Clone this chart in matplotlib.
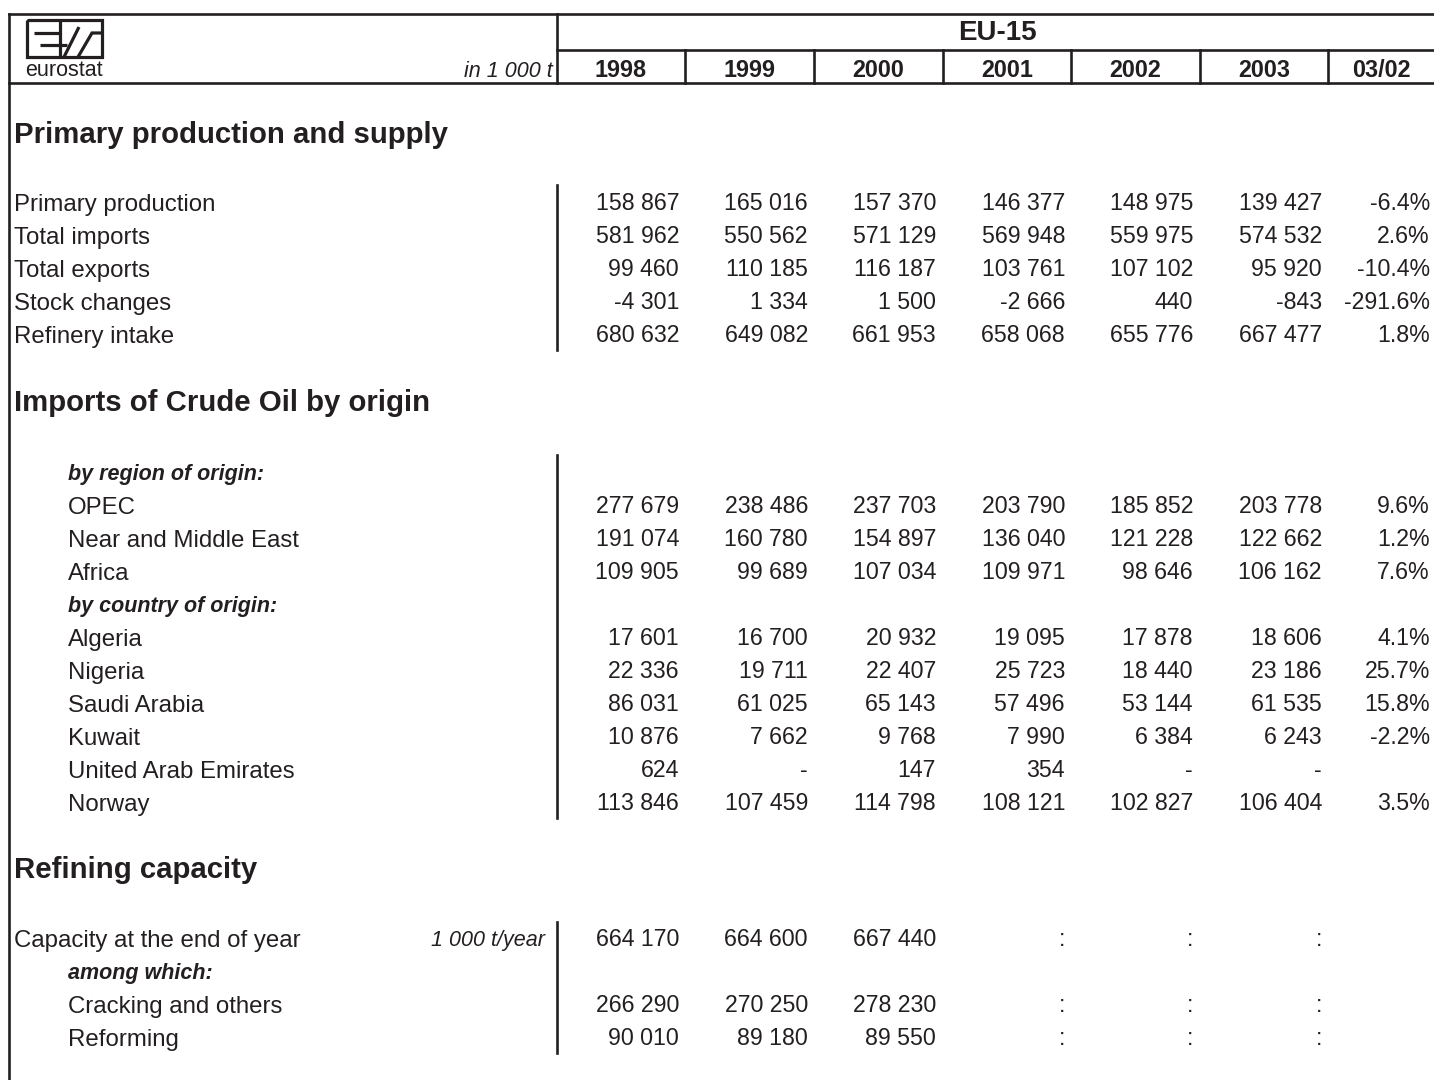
import matplotlib
matplotlib.use("Agg")
from matplotlib import pyplot as plt

plt.rcParams['font.family'] = ['Liberation Sans', 'DejaVu Sans']

INK = '#231f20'

# header
region = 'EU-15'
unit = 'in 1 000 t'
columns = ['1998', '1999', '2000', '2001', '2002', '2003', '03/02']

# section 1
sec1_title = 'Primary production and supply'
sec1_labels = ['Primary production', 'Total imports', 'Total exports',
               'Stock changes', 'Refinery intake']
sec1_values = [
    ['158 867', '165 016', '157 370', '146 377', '148 975', '139 427', '-6.4%'],
    ['581 962', '550 562', '571 129', '569 948', '559 975', '574 532', '2.6%'],
    ['99 460', '110 185', '116 187', '103 761', '107 102', '95 920', '-10.4%'],
    ['-4 301', '1 334', '1 500', '-2 666', '440', '-843', '-291.6%'],
    ['680 632', '649 082', '661 953', '658 068', '655 776', '667 477', '1.8%'],
]

# section 2
sec2_title = 'Imports of Crude Oil by origin'
sec2_labels = ['by region of origin:', 'OPEC', 'Near and Middle East', 'Africa',
               'by country of origin:', 'Algeria', 'Nigeria', 'Saudi Arabia',
               'Kuwait', 'United Arab Emirates', 'Norway']
sec2_values = [
    None,
    ['277 679', '238 486', '237 703', '203 790', '185 852', '203 778', '9.6%'],
    ['191 074', '160 780', '154 897', '136 040', '121 228', '122 662', '1.2%'],
    ['109 905', '99 689', '107 034', '109 971', '98 646', '106 162', '7.6%'],
    None,
    ['17 601', '16 700', '20 932', '19 095', '17 878', '18 606', '4.1%'],
    ['22 336', '19 711', '22 407', '25 723', '18 440', '23 186', '25.7%'],
    ['86 031', '61 025', '65 143', '57 496', '53 144', '61 535', '15.8%'],
    ['10 876', '7 662', '9 768', '7 990', '6 384', '6 243', '-2.2%'],
    ['624', '-', '147', '354', '-', '-', ''],
    ['113 846', '107 459', '114 798', '108 121', '102 827', '106 404', '3.5%'],
]

# section 3
sec3_title = 'Refining capacity'
sec3_unit = '1 000 t/year'
sec3_labels = ['Capacity at the end of year', 'among which:',
               'Cracking and others', 'Reforming']
sec3_values = [
    ['664 170', '664 600', '667 440', ':', ':', ':', ''],
    None,
    ['266 290', '270 250', '278 230', ':', ':', ':', ''],
    ['90 010', '89 180', '89 550', ':', ':', ':', ''],
]

W, H = 1434, 1080
fig = plt.figure(figsize=(W / 100, H / 100), dpi=100)
ax = fig.add_axes([0, 0, 1, 1])
ax.set_xlim(0, W)
ax.set_ylim(H, 0)
ax.axis('off')

LW = 1.9
x_left, x_div = 9, 557
col_edges = [557, 685, 814, 943, 1071, 1200, 1328, 1434]
col_right = [679, 808, 936, 1065, 1193, 1322, 1430]
y_top, y_mid, y_bot = 14, 50, 83

FS_LAB, FS_NUM, FS_HEAD, FS_SUB = 17.3, 16.7, 21.2, 15.5


def put(x, yc, s, size, **kw):
    # place text so its cap height is centred on yc
    ax.text(x, yc + 0.358 * size * 100 / 72, s, va='baseline',
            fontsize=size, color=INK, **kw)


# frame and header grid
ax.plot([x_left, W], [y_top, y_top], color=INK, lw=LW)
ax.plot([x_left, W], [y_bot, y_bot], color=INK, lw=LW)
ax.plot([x_div, W], [y_mid, y_mid], color=INK, lw=LW)
ax.plot([x_left, x_left], [y_top, H], color=INK, lw=LW)
ax.plot([x_div, x_div], [y_top, y_bot], color=INK, lw=LW)
for xe in col_edges[1:-1]:
    ax.plot([xe, xe], [y_mid, y_bot], color=INK, lw=LW)

put((x_div + W) / 2 + 2, 30, region, 20, ha='center', fontweight='bold')
for i, c in enumerate(columns):
    put((col_edges[i] + col_edges[i + 1]) / 2, 69, c, 16.8, ha='center',
        fontweight='bold')
put(553, 69, unit, 15.5, ha='right', style='italic')

# eurostat logo
lk = dict(color=INK, lw=2.3, solid_capstyle='butt', solid_joinstyle='miter')
ax.plot([27, 102, 102, 27, 27], [20, 20, 57, 57, 20], **lk)
ax.plot([60, 60], [20, 57], **lk)
ax.plot([34, 60], [33, 33], **lk)
ax.plot([40, 60], [45, 45], **lk)
ax.plot([60, 67], [45, 45], **lk)
ax.plot([64, 79], [57, 27], **lk)
ax.plot([78, 92, 102], [57, 33, 33], **lk)
put(64, 68, 'eurostat', 15.5, ha='center')


def draw_rows(labels, values, y0, indent_first=True, step=33):
    for k, (lab, vals) in enumerate(zip(labels, values)):
        y = y0 + k * step
        if lab.endswith(':'):
            put(68, y, lab, FS_SUB, ha='left', fontweight='bold',
                style='italic')
        else:
            x = 68 if (indent_first or k > 0) else 14
            put(x, y, lab, FS_LAB, ha='left')
        if vals:
            for xr, v in zip(col_right, vals):
                put(xr, y, v, FS_NUM, ha='right')


def heading(text, y):
    put(14, y, text, FS_HEAD, ha='left', fontweight='bold')


heading(sec1_title, 132)
for k, lab in enumerate(sec1_labels):
    y = 202 + k * 33
    put(14, y, lab, FS_LAB, ha='left')
    for xr, v in zip(col_right, sec1_values[k]):
        put(xr, y, v, FS_NUM, ha='right')
ax.plot([x_div, x_div], [185, 350], color=INK, lw=LW)

heading(sec2_title, 400)
draw_rows(sec2_labels, sec2_values, 472)
ax.plot([x_div, x_div], [455, 818], color=INK, lw=LW)

heading(sec3_title, 867)
draw_rows(sec3_labels, sec3_values, 938, indent_first=False)
put(545, 938, sec3_unit, 15.5, ha='right', style='italic')
ax.plot([x_div, x_div], [922, 1053], color=INK, lw=LW)

fig.savefig('out.png', dpi=100, facecolor='white')
